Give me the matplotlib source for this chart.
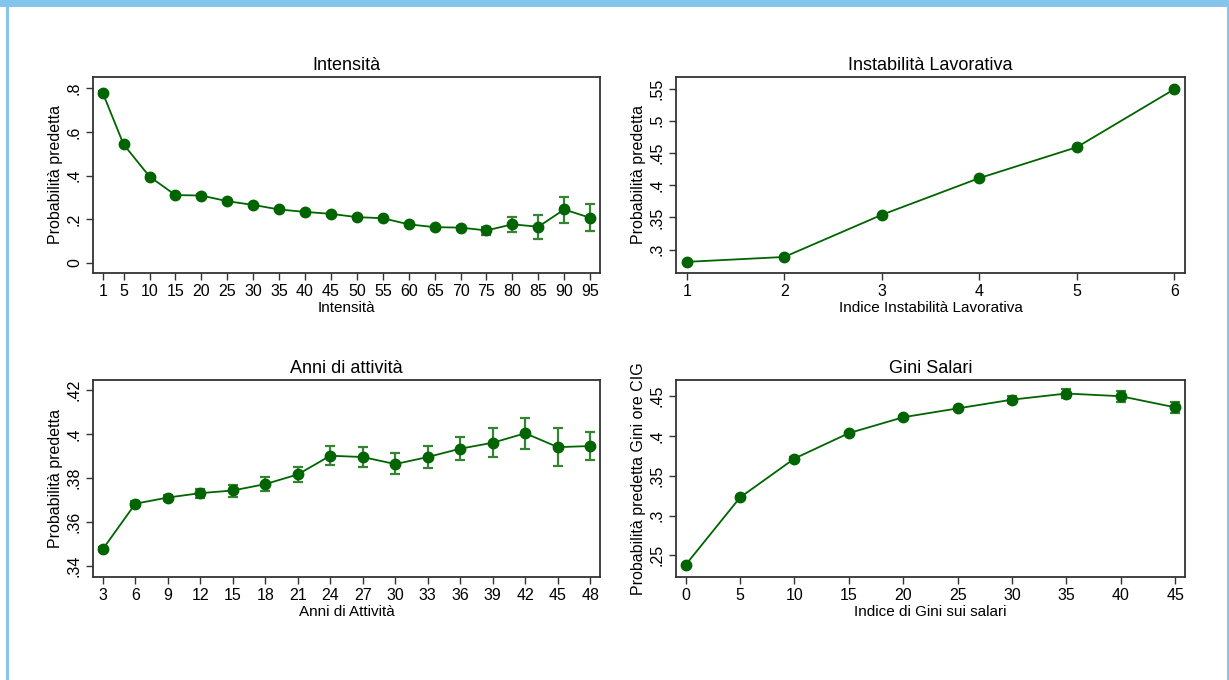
import matplotlib

matplotlib.use("Agg")
import matplotlib.pyplot as plt
from matplotlib.patches import Rectangle
from matplotlib.ticker import FuncFormatter

plt.rcParams["font.family"] = ["Liberation Sans", "DejaVu Sans"]

# --- data ---
int_x = [1, 5, 10, 15, 20, 25, 30, 35, 40, 45, 50, 55, 60, 65, 70, 75, 80, 85, 90, 95]
int_y = [0.778, 0.543, 0.396, 0.311, 0.309, 0.283, 0.266, 0.245, 0.234, 0.225,
         0.210, 0.205, 0.177, 0.164, 0.162, 0.149, 0.177, 0.166, 0.245, 0.207]
int_lo = [0.770, 0.536, 0.390, 0.306, 0.304, 0.279, 0.262, 0.241, 0.230, 0.221,
          0.205, 0.200, 0.171, 0.158, 0.156, 0.130, 0.142, 0.110, 0.184, 0.145]
int_hi = [0.786, 0.550, 0.402, 0.316, 0.314, 0.287, 0.270, 0.249, 0.238, 0.229,
          0.215, 0.210, 0.183, 0.170, 0.168, 0.167, 0.211, 0.222, 0.304, 0.268]

inst_x = [1, 2, 3, 4, 5, 6]
inst_y = [0.281, 0.2886, 0.354, 0.411, 0.459, 0.549]

anni_x = [3, 6, 9, 12, 15, 18, 21, 24, 27, 30, 33, 36, 39, 42, 45, 48]
anni_y = [0.3478, 0.3684, 0.3712, 0.3732, 0.3744, 0.3773, 0.3817, 0.3902,
          0.3896, 0.3864, 0.3896, 0.3934, 0.3961, 0.4004, 0.3941, 0.3946]
anni_lo = [0.3467, 0.3671, 0.3697, 0.3710, 0.3715, 0.3741, 0.3782, 0.3861,
           0.3849, 0.3818, 0.3846, 0.3882, 0.3896, 0.3934, 0.3855, 0.3884]
anni_hi = [0.3488, 0.3698, 0.3725, 0.3750, 0.3768, 0.3806, 0.3852, 0.3944,
           0.3941, 0.3916, 0.3946, 0.3989, 0.4027, 0.4072, 0.4027, 0.4011]

gini_x = [0, 5, 10, 15, 20, 25, 30, 35, 40, 45]
gini_y = [0.2381, 0.3228, 0.3717, 0.4036, 0.4236, 0.4347, 0.4457, 0.4534, 0.4500, 0.4360]
gini_lo = [0.2366, 0.3213, 0.3703, 0.4022, 0.4220, 0.4328, 0.4415, 0.4479, 0.4428, 0.4291]
gini_hi = [0.2396, 0.3243, 0.3731, 0.4050, 0.4252, 0.4366, 0.4500, 0.4585, 0.4572, 0.4428]

LINE_COL = "#006400"
ERR_COL = "#348434"
FRAME_COL = "#333333"


def stata_fmt(v, _pos):
    if abs(v) < 1e-9:
        return "0"
    s = f"{v:.2f}".rstrip("0")
    return s.replace("0.", ".", 1)


def draw_panel(ax, x, y, lo, hi, title, xlabel, ylabel, yticks, xlim, ylim):
    if lo is not None:
        yerr = [[yy - l for yy, l in zip(y, lo)], [h - yy for yy, h in zip(y, hi)]]
        ax.errorbar(x, y, yerr=yerr, fmt="none", ecolor=ERR_COL, elinewidth=1.6,
                    capsize=3.3, capthick=1.6, zorder=2)
    ax.plot(x, y, color=LINE_COL, lw=1.3, marker="o", ms=7.5,
            mfc=LINE_COL, mec=LINE_COL, zorder=3)
    ax.set_xticks(x)
    ax.set_yticks(yticks)
    ax.yaxis.set_major_formatter(FuncFormatter(stata_fmt))
    ax.set_xlim(*xlim)
    ax.set_ylim(*ylim)
    ax.set_title(title, fontsize=13, pad=5)
    ax.set_xlabel(xlabel, fontsize=11, labelpad=1)
    ax.set_ylabel(ylabel, fontsize=11.5, labelpad=3)
    ax.tick_params(axis="both", labelsize=11.5, length=5, width=1, color=FRAME_COL, pad=3)
    for lab in ax.get_yticklabels():
        lab.set_rotation(90)
        lab.set_va("center")
    for sp in ax.spines.values():
        sp.set_color(FRAME_COL)
        sp.set_linewidth(1.3)


fig = plt.figure(figsize=(12.29, 6.8), dpi=100)
fig.patch.set_facecolor("white")

W, H = 1229, 680


def axes_px(x0, y0, x1, y1):
    return fig.add_axes([x0 / W, 1 - y1 / H, (x1 - x0) / W, (y1 - y0) / H])


ax1 = axes_px(93, 77, 600, 273)
ax2 = axes_px(676, 77, 1185, 273)
ax3 = axes_px(93, 380, 600, 577)
ax4 = axes_px(676, 380, 1185, 577)

draw_panel(ax1, int_x, int_y, int_lo, int_hi, "Intensità", "Intensità",
           "Probabilità predetta", [0, 0.2, 0.4, 0.6, 0.8], (-0.9, 96.9), (-0.046, 0.852))
draw_panel(ax2, inst_x, inst_y, None, None, "Instabilità Lavorativa",
           "Indice Instabilità Lavorativa", "Probabilità predetta",
           [0.3, 0.35, 0.4, 0.45, 0.5, 0.55], (0.89, 6.11), (0.2637, 0.568))
draw_panel(ax3, anni_x, anni_y, anni_lo, anni_hi, "Anni di attività", "Anni di Attività",
           "Probabilità predetta", [0.34, 0.36, 0.38, 0.40, 0.42], (2.09, 48.9), (0.3351, 0.4246))
draw_panel(ax4, gini_x, gini_y, gini_lo, gini_hi, "Gini Salari", "Indice di Gini sui salari",
           "Probabilità predetta Gini ore CIG", [0.25, 0.3, 0.35, 0.4, 0.45],
           (-0.89, 45.9), (0.2228, 0.4704))

# light-blue frame around the graph window
BORDER = "#86c5eb"
fig.add_artist(Rectangle((0, 1 - 7 / H), 1, 7 / H, transform=fig.transFigure,
                         facecolor=BORDER, edgecolor="none"))
fig.add_artist(Rectangle((6 / W, 0), 2.5 / W, 1, transform=fig.transFigure,
                         facecolor=BORDER, edgecolor="none"))
fig.add_artist(Rectangle((1226.5 / W, 0), 2.5 / W, 1, transform=fig.transFigure,
                         facecolor=BORDER, edgecolor="none"))

fig.savefig("out.png", dpi=100)
